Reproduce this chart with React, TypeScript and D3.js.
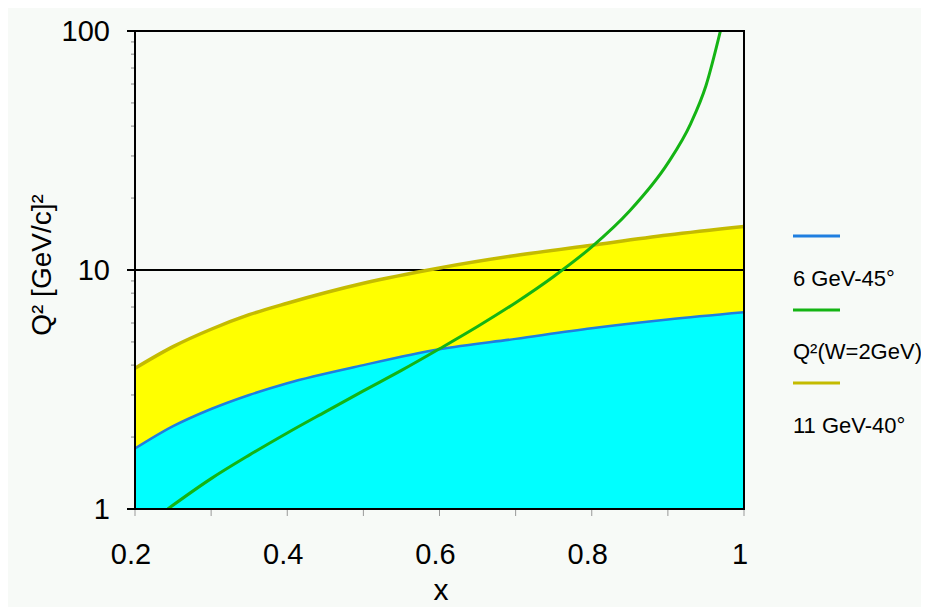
import React from "react";
import * as d3 from "d3";

// Kinematic reach curves, Q² in (GeV/c)² versus Bjorken x
const xUpper = [0.2, 0.25, 0.3, 0.35, 0.4, 0.5, 0.6, 0.7, 0.8, 0.9, 1.0];
const q2Upper = [3.88, 4.78, 5.65, 6.5, 7.26, 8.8, 10.2, 11.5, 12.7, 14.0, 15.2]; // 11 GeV-40°

const xLower = [0.2, 0.25, 0.3, 0.35, 0.4, 0.5, 0.6, 0.7, 0.8, 0.9, 1.0];
const q2Lower = [1.79, 2.22, 2.62, 3.0, 3.36, 4.0, 4.66, 5.15, 5.7, 6.2, 6.65]; // 6 GeV-45°

const xW = [0.243, 0.3, 0.35, 0.4, 0.45, 0.5, 0.55, 0.6, 0.65, 0.7, 0.75, 0.8, 0.85, 0.9, 0.93, 0.95, 0.969];
const q2W = [1.0, 1.34, 1.68, 2.08, 2.55, 3.12, 3.8, 4.68, 5.8, 7.3, 9.4, 12.5, 17.7, 28, 41, 59, 100]; // Q²(W=2GeV)

const xTicks = [0.2, 0.4, 0.6, 0.8, 1];
const xTickLabels = ["0.2", "0.4", "0.6", "0.8", "1"];
const yTicks = [1, 10, 100];
const yTickLabels = ["1", "10", "100"];

const legendLabels = ["6 GeV-45°", "Q²(W=2GeV)", "11 GeV-40°"];

const W = 921;
const H = 599;
const plot = { left: 127, top: 23, right: 736, bottom: 501 };

const COLORS = {
  cyan: "#00ffff",
  yellow: "#ffff00",
  blue: "#1f7ee0",
  green: "#14b414",
  olive: "#c4bb00",
  bg: "#f7faf7",
};

const FONT = "'Liberation Sans', Arial, sans-serif";

export default function App() {
  const x = d3.scaleLinear().domain([0.2, 1]).range([plot.left, plot.right]);
  const y = d3.scaleLog().domain([1, 100]).range([plot.bottom, plot.top]);

  const upper = xUpper.map((v, i) => [v, q2Upper[i]] as [number, number]);
  const lower = xLower.map((v, i) => [v, q2Lower[i]] as [number, number]);
  const wLine = xW.map((v, i) => [v, q2W[i]] as [number, number]);

  const area = d3
    .area<[number, number]>()
    .x((d) => x(d[0]))
    .y0(plot.bottom)
    .y1((d) => y(d[1]))
    .curve(d3.curveMonotoneX);
  const line = d3
    .line<[number, number]>()
    .x((d) => x(d[0]))
    .y((d) => y(d[1]))
    .curve(d3.curveMonotoneX);

  const minorY: number[] = [];
  for (const dec of [1, 10]) for (let k = 2; k <= 9; k++) minorY.push(dec * k);
  const minorX = d3.range(0.2, 1.0001, 0.1);

  const legendColors = [COLORS.blue, COLORS.green, COLORS.olive];
  const legendLineY = [228, 302, 375];
  const legendTextY = [278, 351, 425];

  return (
    <svg width={W} height={H} style={{ display: "block" }}>
      <rect x={0} y={0} width={W} height={H} fill={COLORS.bg} />
      <defs>
        <clipPath id="plotClip">
          <rect x={plot.left} y={plot.top} width={plot.right - plot.left} height={plot.bottom - plot.top} />
        </clipPath>
      </defs>

      <g clipPath="url(#plotClip)">
        <path d={area(upper) ?? ""} fill={COLORS.yellow} />
        <path d={area(lower) ?? ""} fill={COLORS.cyan} />
      </g>

      {/* gridline at 10 */}
      <line x1={plot.left - 8} x2={plot.right} y1={y(10)} y2={y(10)} stroke="#000" strokeWidth={2} />

      <g clipPath="url(#plotClip)" fill="none" strokeLinejoin="round">
        <path d={line(upper) ?? ""} stroke={COLORS.olive} strokeWidth={3.5} />
        <path d={line(lower) ?? ""} stroke={COLORS.blue} strokeWidth={2.5} />
        <path d={line(wLine) ?? ""} stroke={COLORS.green} strokeWidth={3} />
      </g>

      {/* minor ticks */}
      {minorY.map((v) => (
        <line key={"my" + v} x1={plot.left - 4} x2={plot.left} y1={y(v)} y2={y(v)} stroke="#888" strokeWidth={1} />
      ))}
      {minorX.map((v) => (
        <line key={"mx" + v} x1={x(v)} x2={x(v)} y1={plot.bottom} y2={plot.bottom + 7} stroke="#999" strokeWidth={1} />
      ))}

      {/* frame */}
      <rect x={plot.left} y={plot.top} width={plot.right - plot.left} height={plot.bottom - plot.top} fill="none" stroke="#000" strokeWidth={2} />
      {yTicks.map((v) => (
        <line key={"yt" + v} x1={plot.left - 8} x2={plot.left} y1={y(v)} y2={y(v)} stroke="#000" strokeWidth={2} />
      ))}

      {/* tick labels */}
      {yTicks.map((v, i) => (
        <text key={"yl" + v} x={plot.left - 25} y={y(v)} dy="0.36em" textAnchor="end" fontFamily={FONT} fontSize={29} fill="#000">
          {yTickLabels[i]}
        </text>
      ))}
      {xTicks.map((v, i) => (
        <text key={"xl" + v} x={x(v) - 4} y={556} textAnchor="middle" fontFamily={FONT} fontSize={29} fill="#000">
          {xTickLabels[i]}
        </text>
      ))}

      {/* axis titles */}
      <text x={433} y={592} textAnchor="middle" fontFamily={FONT} fontSize={30} fill="#000">
        x
      </text>
      <text
        transform={`translate(43,257) rotate(-90)`}
        textAnchor="middle"
        fontFamily={FONT}
        fontSize={28}
        fill="#000"
      >
        Q² [GeV/c]²
      </text>

      {/* legend */}
      {legendLabels.map((lab, i) => (
        <g key={lab}>
          <line x1={785} x2={832} y1={legendLineY[i]} y2={legendLineY[i]} stroke={legendColors[i]} strokeWidth={3} />
          <text x={785} y={legendTextY[i]} fontFamily={FONT} fontSize={22} fill="#000">
            {lab}
          </text>
        </g>
      ))}
    </svg>
  );
}
